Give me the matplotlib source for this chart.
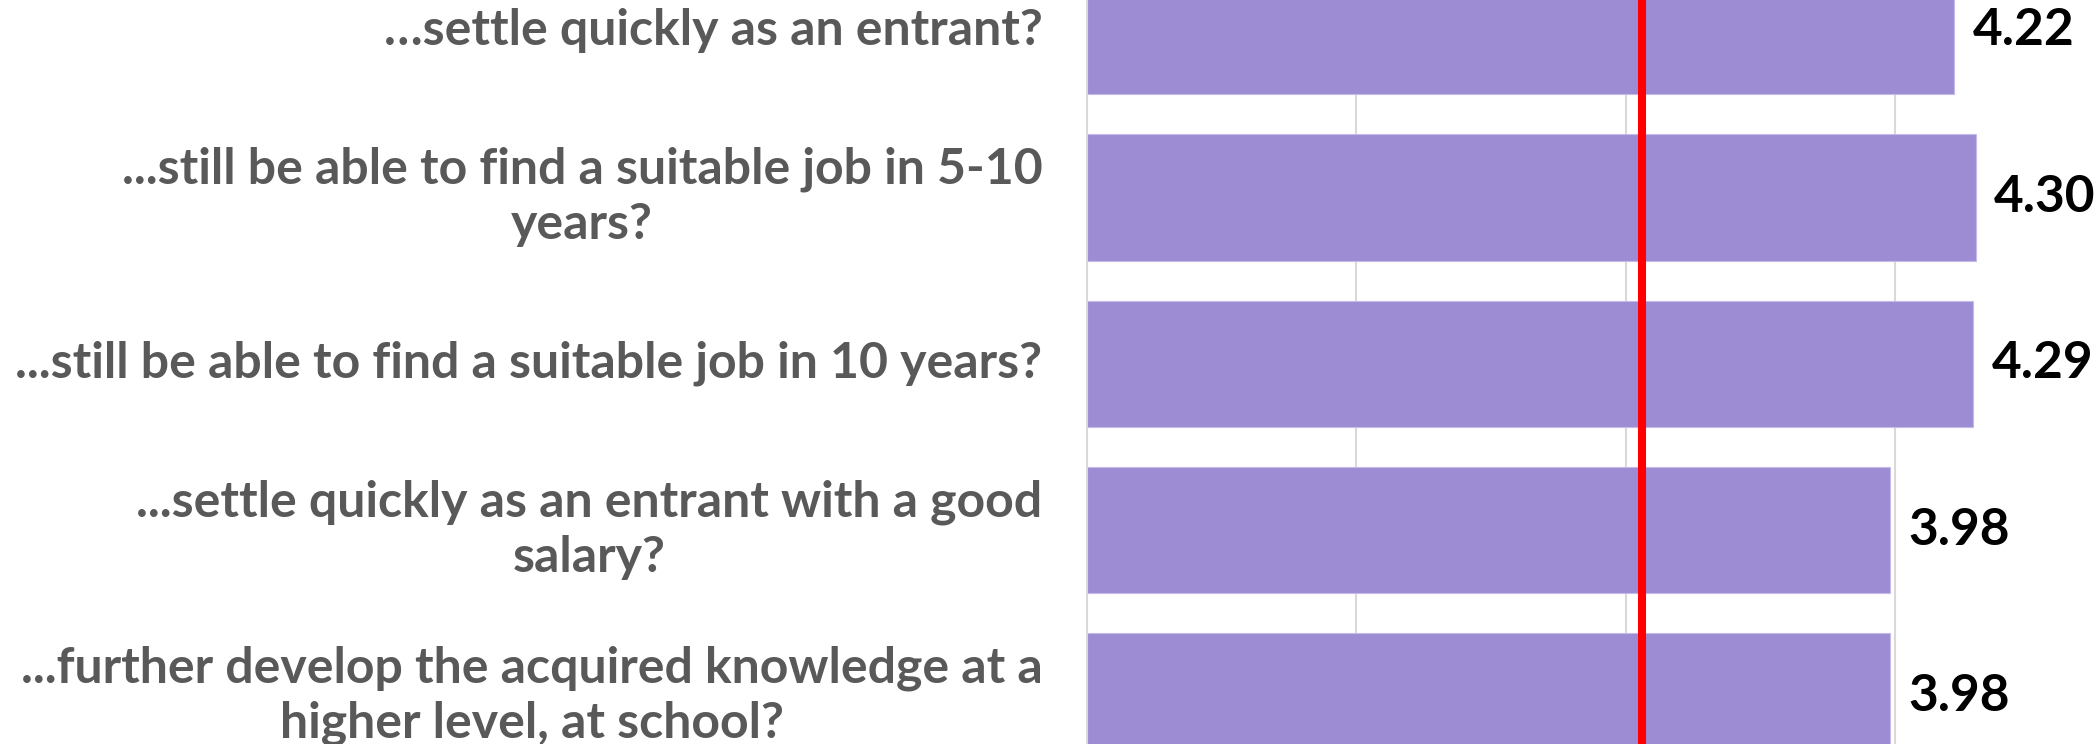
"""
Mean agreement scores per statement, horizontal bars with a reference line.
"""

import matplotlib
matplotlib.use('Agg')
import matplotlib.pyplot as plt

# Data
categories = [
    '…settle quickly as an entrant?',
    '...still be able to find a suitable job in 5-10\nyears?',
    '...still be able to find a suitable job in 10 years?',
    '...settle quickly as an entrant with a good\nsalary?',
    '...further develop the acquired knowledge at a\nhigher level, at school?',
]
values = [4.22, 4.30, 4.29, 3.98, 3.98]
reference_value = 3.06
grid_ticks = [2, 3, 4]

plt.rcParams.update({
    'font.family': ['Lato', 'DejaVu Sans'],
    'font.weight': 'bold',
})

BAR_COLOR = '#9d8cd3'
LABEL_COLOR = '#595959'
GRID_COLOR = '#d9d9d9'

W, H = 2099, 744
fig = plt.figure(figsize=(W / 100, H / 100), dpi=100)
ax_left = 1087
ax = fig.add_axes([ax_left / W, 0, (W - ax_left) / W, 1])

positions = list(range(len(values)))
ax.barh(positions, values, height=0.76, color=BAR_COLOR,
        edgecolor='#c4bbe8', linewidth=0.8, zorder=2)

ax.axvline(reference_value, color='#ff0000', linewidth=5.8, zorder=3)

for pos, val in zip(positions, values):
    ax.annotate(f'{val:.2f}', xy=(val, pos), xytext=(13, 0),
                textcoords='offset points', ha='left', va='center',
                fontsize=37, fontweight='bold', color='black',
                annotation_clip=False)

# category labels to the left of the plot area
for pos, cat in zip(positions, categories):
    ax.annotate(cat, xy=(0, pos), xycoords=('axes fraction', 'data'),
                xytext=(-32, 0.5), textcoords='offset points',
                ha='right', va='center', multialignment='center',
                fontsize=36, fontweight='bold', color=LABEL_COLOR,
                linespacing=1.26, annotation_clip=False)

# x scale: 1 unit = 269.4 px, left edge at 1
ax.set_xlim(1, 1 + (W - ax_left) / 269.4)
ax.set_ylim(4.285, -0.186)

ax.set_xticks(grid_ticks)
ax.xaxis.grid(True, color=GRID_COLOR, linewidth=1.5, zorder=0)
ax.set_axisbelow(True)
ax.tick_params(axis='x', length=0, labelbottom=False)
ax.set_yticks([])

for side in ['top', 'right', 'bottom']:
    ax.spines[side].set_visible(False)
ax.spines['left'].set_color(GRID_COLOR)
ax.spines['left'].set_linewidth(1.5)

fig.savefig('out.png', dpi=100)
